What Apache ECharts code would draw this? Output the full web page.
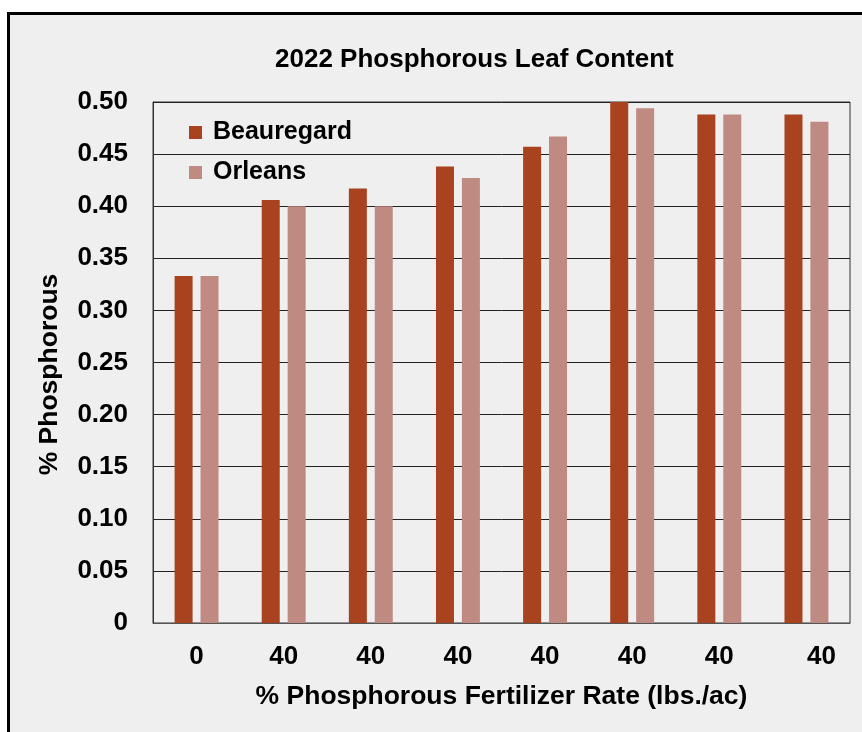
<!DOCTYPE html>
<html>
<head>
<meta charset="utf-8">
<script src="https://cdn.jsdelivr.net/npm/echarts@6/dist/echarts.min.js"></script>
<style>
  html, body { margin: 0; padding: 0; background: #fff; }
  #chart-wrapper { width: 862px; height: 732px; }
</style>
</head>
<body>
<div id="chart-wrapper"></div>
<script>
const categories = ['0', '40', '40', '40', '40', '40', '40', '40']
const beauregard = [0.333, 0.406, 0.417, 0.438, 0.457, 0.500, 0.488, 0.488]
const orleans = [0.333, 0.400, 0.400, 0.427, 0.467, 0.494, 0.488, 0.481]

const font = 'Liberation Sans, Arial, Helvetica, sans-serif'

const chartDom = document.getElementById('chart-wrapper')
const chart = echarts.init(chartDom)

const boldText = size => ({
  fontFamily: font,
  fontWeight: 'bold',
  fontSize: size,
  color: '#000'
})

const option = {
  backgroundColor: '#efefef',
  animation: false,
  title: {
    text: '2022 Phosphorous Leaf Content',
    left: 270,
    top: 42,
    textStyle: boldText(26)
  },
  legend: {
    orient: 'vertical',
    left: 184,
    top: 115,
    itemWidth: 13,
    itemHeight: 13,
    itemGap: 15,
    icon: 'rect',
    textStyle: Object.assign(boldText(25), { lineHeight: 25, padding: [0, 0, 0, 6] }),
    data: ['Beauregard', 'Orleans']
  },
  grid: {
    left: 153,
    top: 102,
    right: 12,
    bottom: 109,
    show: true,
    borderColor: '#333',
    borderWidth: 1,
    backgroundColor: 'transparent'
  },
  xAxis: {
    type: 'category',
    data: categories,
    name: '% Phosphorous Fertilizer Rate (lbs./ac)',
    nameLocation: 'middle',
    nameGap: 60,
    nameTextStyle: boldText(26.5),
    axisLine: { lineStyle: { color: '#555', width: 1 } },
    axisTick: { show: false },
    axisLabel: Object.assign(boldText(26), {
      interval: 0,
      margin: 21,
      formatter: (v, i) => (i === categories.length - 1 ? '{last|' + v + '}' : v),
      rich: {
        last: Object.assign(boldText(26), { padding: [0, 0, 0, 30] })
      }
    })
  },
  yAxis: {
    type: 'value',
    min: 0,
    max: 0.5,
    interval: 0.05,
    name: '% Phosphorous',
    nameLocation: 'middle',
    nameGap: 90,
    nameTextStyle: Object.assign(boldText(26.5), { padding: [0, 24, 0, 0] }),
    axisLine: { show: true, lineStyle: { color: '#333', width: 1 } },
    axisTick: { show: false },
    splitLine: { lineStyle: { color: '#222', width: 1 } },
    axisLabel: Object.assign(boldText(26), {
      margin: 25,
      formatter: v => (v === 0 ? '0' : v.toFixed(2))
    })
  },
  series: [
    {
      name: 'Beauregard',
      type: 'bar',
      data: beauregard,
      barWidth: 18,
      barGap: '44%',
      itemStyle: { color: '#a9431f' }
    },
    {
      name: 'Orleans',
      type: 'bar',
      data: orleans,
      barWidth: 18,
      itemStyle: { color: '#bf8a82' }
    }
  ],
  graphic: [
    { type: 'rect', shape: { x: 0, y: 0, width: 862, height: 12 }, style: { fill: '#fff' }, silent: true },
    { type: 'rect', shape: { x: 0, y: 0, width: 7, height: 732 }, style: { fill: '#fff' }, silent: true },
    { type: 'line', shape: { x1: 7, y1: 13.5, x2: 862, y2: 13.5 }, style: { stroke: '#000', lineWidth: 3 }, silent: true },
    { type: 'line', shape: { x1: 8.5, y1: 12, x2: 8.5, y2: 732 }, style: { stroke: '#000', lineWidth: 3 }, silent: true }
  ]
}

chart.setOption(option)
</script>
</body>
</html>
